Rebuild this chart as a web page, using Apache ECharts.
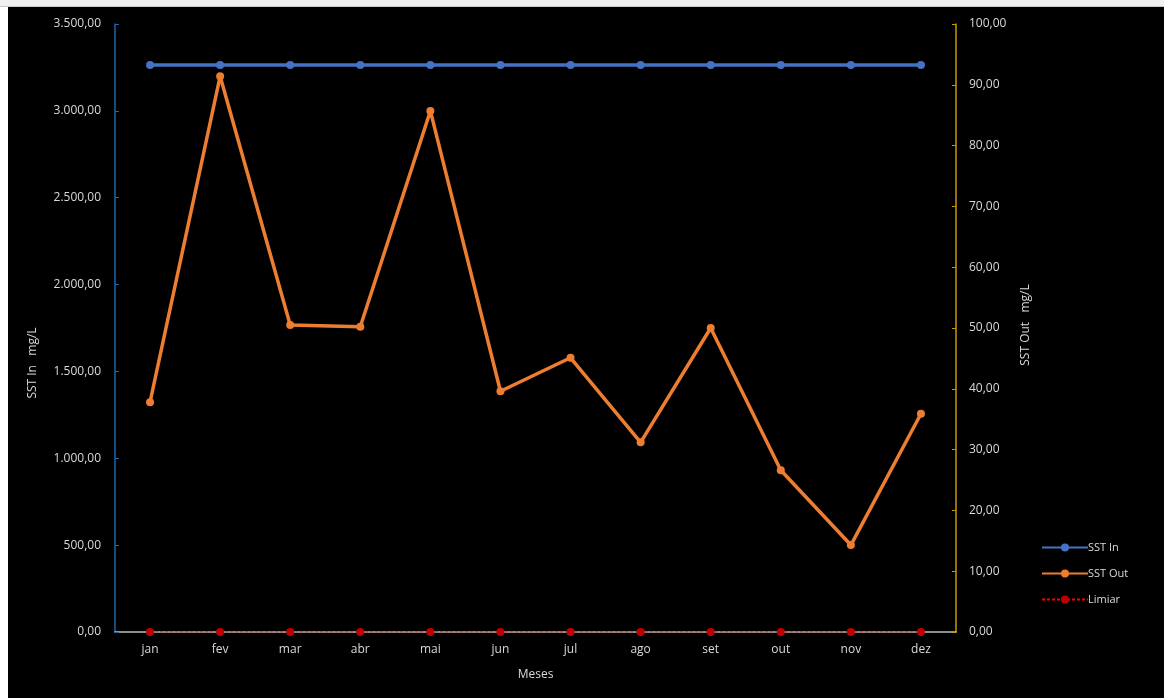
<!DOCTYPE html>
<html>
<head>
<meta charset="utf-8">
<script src="https://cdn.jsdelivr.net/npm/echarts@6/dist/echarts.min.js"></script>
<style>
  html, body { margin: 0; padding: 0; background: #ffffff; }
  #topbar { position: absolute; left: 0; top: 0; width: 1164px; height: 6px; background: #f0f0f0; border-bottom: 1px solid #c8c8c8; }
  #chart { position: absolute; left: 8px; top: 7px; width: 1156px; height: 691px; background: #000000; }
</style>
</head>
<body>
<div id="topbar"></div>
<div id="chart"></div>
<script>
// Monthly suspended solids (SST), inflow vs outflow, mg/L
const months = ['jan', 'fev', 'mar', 'abr', 'mai', 'jun', 'jul', 'ago', 'set', 'out', 'nov', 'dez'];
const sstIn = [3264, 3264, 3264, 3264, 3264, 3264, 3264, 3264, 3264, 3264, 3264, 3264];
const sstOut = [37.8, 91.4, 50.5, 50.2, 85.7, 39.6, 45.1, 31.2, 50.0, 26.6, 14.3, 35.9];
const limiar = [0, 0, 0, 0, 0, 0, 0, 0, 0, 0, 0, 0];

const textColor = '#d9d9d9';
const font = 'Open Sans';

// pt-BR number format: 3.500,00
function fmt(v) {
  const parts = Number(v).toFixed(2).split('.');
  parts[0] = parts[0].replace(/\B(?=(\d{3})+(?!\d))/g, '.');
  return parts.join(',');
}

const chart = echarts.init(document.getElementById('chart'));
chart.setOption({
  backgroundColor: '#000000',
  animation: false,
  grid: { left: 107, right: 208, top: 17, bottom: 66 },
  legend: {
    orient: 'vertical',
    left: 1028,
    top: 530,
    itemWidth: 46,
    itemHeight: 10,
    itemGap: 15,
    textStyle: { color: textColor, fontFamily: font, fontSize: 11, padding: [0, 0, 0, -5] },
    data: ['SST In', 'SST Out', 'Limiar']
  },
  xAxis: {
    type: 'category',
    data: months,
    boundaryGap: true,
    name: 'Meses',
    nameLocation: 'middle',
    nameGap: 37,
    nameTextStyle: { color: textColor, fontFamily: font, fontSize: 12 },
    axisLine: { lineStyle: { color: '#bfbfbf', width: 1.5 } },
    axisTick: { show: false },
    axisLabel: { color: textColor, fontFamily: font, fontSize: 12, margin: 12 }
  },
  yAxis: [
    {
      type: 'value',
      min: 0, max: 3500, interval: 500,
      name: 'SST In   mg/L',
      nameLocation: 'middle',
      nameGap: 76,
      nameTextStyle: { color: textColor, fontFamily: font, fontSize: 12, padding: [0, 70, 0, 0] },
      axisLine: { show: true, lineStyle: { color: '#1f64a8', width: 1.5 } },
      axisTick: { show: true, inside: true, length: 4, lineStyle: { color: '#1f64a8' } },
      splitLine: { show: false },
      axisLabel: { color: textColor, fontFamily: font, fontSize: 12, margin: 14, formatter: fmt }
    },
    {
      type: 'value',
      position: 'right',
      min: 0, max: 100, interval: 10,
      name: 'SST Out   mg/L',
      nameLocation: 'middle',
      nameGap: 64,
      nameRotate: 90,
      nameTextStyle: { color: textColor, fontFamily: font, fontSize: 12, padding: [0, 0, 0, 6] },
      axisLine: { show: true, lineStyle: { color: '#c99a00', width: 1.5 } },
      axisTick: { show: true, inside: true, length: 4, lineStyle: { color: '#c99a00' } },
      splitLine: { show: false },
      axisLabel: { color: textColor, fontFamily: font, fontSize: 12, margin: 13, formatter: fmt }
    }
  ],
  series: [
    {
      name: 'SST In',
      type: 'line',
      yAxisIndex: 0,
      data: sstIn,
      symbol: 'circle',
      symbolSize: 8,
      itemStyle: { color: '#4472c4' },
      lineStyle: { color: '#4472c4', width: 3.5 }
    },
    {
      name: 'SST Out',
      type: 'line',
      yAxisIndex: 1,
      data: sstOut,
      symbol: 'circle',
      symbolSize: 8,
      itemStyle: { color: '#ed7d31' },
      lineStyle: { color: '#ed7d31', width: 3.5 }
    },
    {
      name: 'Limiar',
      type: 'line',
      yAxisIndex: 0,
      data: limiar,
      symbol: 'circle',
      symbolSize: 8,
      itemStyle: { color: '#c00000' },
      lineStyle: { color: '#ff0000', width: 1, type: [3, 2] },
      z: 3
    }
  ]
});
</script>
</body>
</html>
